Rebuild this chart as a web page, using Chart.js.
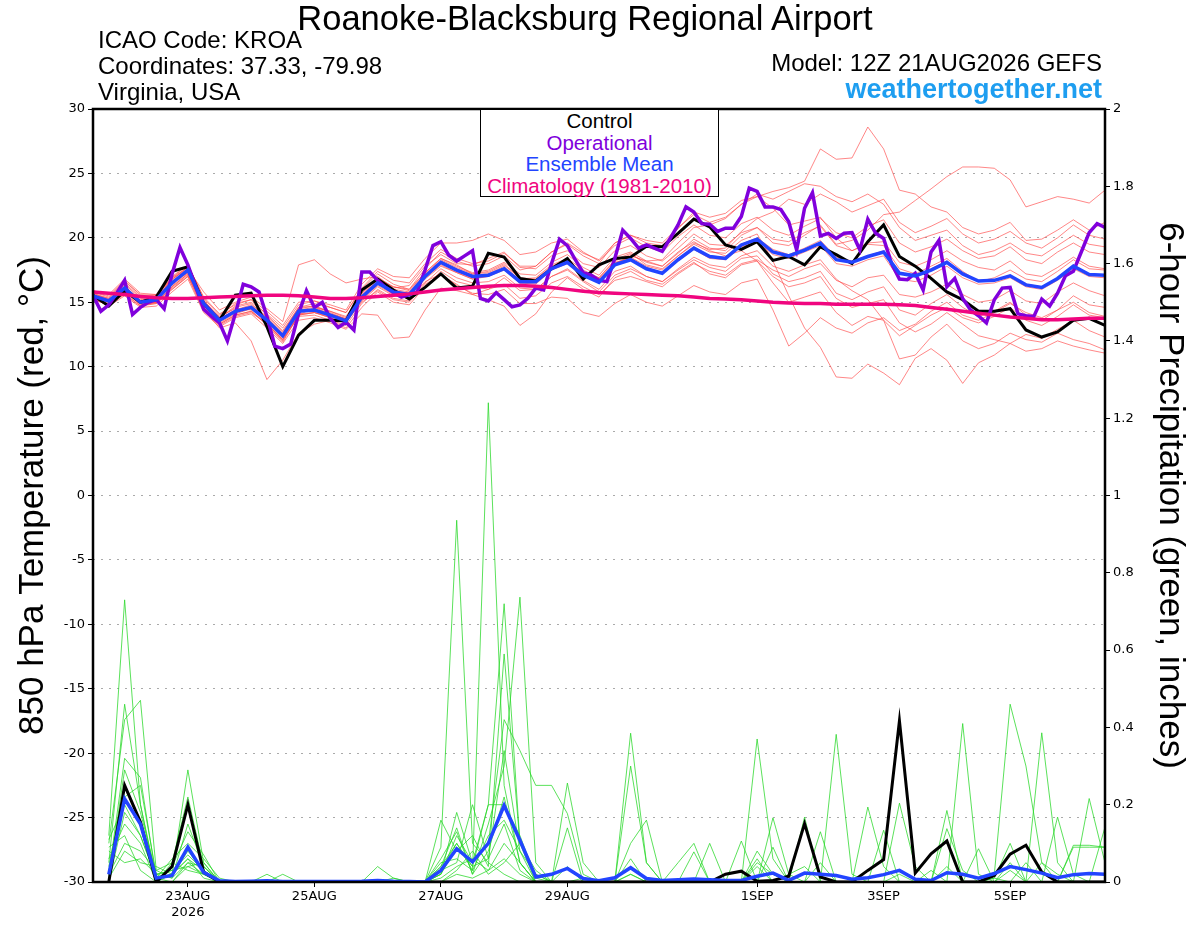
<!DOCTYPE html>
<html>
<head>
<meta charset="utf-8">
<script src="https://cdn.jsdelivr.net/npm/chart.js@4.4.1/dist/chart.umd.min.js"></script>
<style>
  html, body { margin: 0; padding: 0; background: #fff; }
  #wrap { position: relative; width: 1200px; height: 927px; }
  #wrap canvas { position: absolute; left: 0; top: 0; }
  .txt { position: absolute; font-family: "Liberation Sans", Arial, sans-serif; white-space: nowrap; color: #000; }
  #title { left: 0; width: 1170px; top: 0px; text-align: center; font-size: 34.5px; line-height: 36px; }
  .info { left: 98px; font-size: 24px; line-height: 26px; }
  .model { right: 98px; font-size: 24px; line-height: 26px; text-align: right; }
  #site { right: 98px; top: 75px; font-size: 27px; line-height: 28px; font-weight: bold; color: #1e9ef0; }
  #legend { position: absolute; left: 480px; top: 109px; width: 237px; height: 86px; border: 1px solid #000;
            background: #fff; font-family: "Liberation Sans", Arial, sans-serif; font-size: 20.5px; text-align: center; }
  #legend div { height: 21.5px; line-height: 21.5px; }
</style>
</head>
<body>
<div id="wrap">
  <canvas id="ensChart"></canvas>
  <div class="txt" id="title">Roanoke-Blacksburg Regional Airport</div>
  <div class="txt info" style="top:27px">ICAO Code: KROA</div>
  <div class="txt info" style="top:53px">Coordinates: 37.33, -79.98</div>
  <div class="txt info" style="top:79px">Virginia, USA</div>
  <div class="txt model" style="top:50px">Model: 12Z 21AUG2026 GEFS</div>
  <div class="txt" id="site">weathertogether.net</div>
  <div id="legend">
    <div style="color:#000">Control</div>
    <div style="color:#8000dc">Operational</div>
    <div style="color:#2244ff">Ensemble Mean</div>
    <div style="color:#f0057f">Climatology (1981-2010)</div>
  </div>
</div>
<script>
// forecast hours since 12Z 21AUG2026
const tempHours = Array.from({length: 65}, (_, i) => i * 6);
const opHours = Array.from({length: 129}, (_, i) => i * 3);
const precipHours = tempHours.slice(1);

const xTickHours = [36, 84, 132, 180, 252, 300, 348];
const xTickLabels = [['23AUG', '2026'], '25AUG', '27AUG', '29AUG', '1SEP', '3SEP', '5SEP'];

// 850 hPa temperature (C), 6-hourly
const controlTemp = [15.55, 14.7, 15.9, 15.0, 15.4, 17.4, 17.75, 14.9, 13.6, 15.55,
  15.7, 13.1, 10.0, 12.45, 13.6, 13.6, 13.55, 15.95, 16.8, 15.95,
  15.25, 16.15, 17.2, 16.1, 16.25, 18.8, 18.5, 16.85, 16.65, 17.6,
  18.4, 16.8, 17.9, 18.4, 18.5, 19.35, 19.3, 20.35, 21.45, 20.85,
  19.45, 19.1, 19.7, 18.25, 18.55, 17.9, 19.3, 18.7, 18.0, 19.7,
  21.0, 18.55, 17.8, 16.85, 15.8, 15.2, 14.3, 14.3, 14.5, 12.85,
  12.3, 12.7, 13.6, 13.75, 13.2];

const meanTemp = [15.5, 15.1, 16.1, 15.0, 15.2, 16.5, 17.5, 14.9, 13.6, 14.3,
  14.6, 13.6, 12.4, 14.3, 14.4, 14.0, 13.55, 15.4, 16.5, 15.8,
  15.6, 17.0, 18.1, 17.5, 17.0, 17.1, 17.6, 16.6, 16.6, 17.6,
  18.1, 17.1, 16.55, 17.9, 18.3, 17.6, 17.25, 18.3, 19.2, 18.55,
  18.4, 19.45, 19.9, 18.9, 18.6, 19.05, 19.6, 18.3, 18.1, 18.55,
  18.9, 17.25, 17.05, 17.5, 18.1, 17.2, 16.65, 16.7, 17.05, 16.35,
  16.15, 16.85, 17.8, 17.15, 17.1];

const climoTemp = [15.8, 15.7, 15.6, 15.45, 15.35, 15.3, 15.3, 15.35, 15.4, 15.45,
  15.5, 15.55, 15.55, 15.5, 15.4, 15.3, 15.3, 15.35, 15.45, 15.55,
  15.65, 15.8, 15.95, 16.05, 16.15, 16.25, 16.3, 16.3, 16.25, 16.15,
  16.0, 15.85, 15.75, 15.7, 15.65, 15.6, 15.55, 15.5, 15.4, 15.3,
  15.25, 15.2, 15.1, 15.0, 14.95, 14.9, 14.9, 14.85, 14.85, 14.85,
  14.85, 14.8, 14.75, 14.6, 14.45, 14.3, 14.15, 14.0, 13.85, 13.75,
  13.65, 13.65, 13.7, 13.75, 13.75];

// operational run, 3-hourly
const operationalTemp = [15.55, 14.3, 14.8, 15.7, 16.7, 14.05, 14.6, 15.0, 15.2, 14.5,
  17.2, 19.25, 17.9, 16.2, 14.45, 13.9, 13.4, 12.0, 14.1, 16.4,
  16.2, 15.8, 13.9, 11.6, 11.4, 11.75, 14.1, 15.9, 14.6, 15.0,
  13.75, 13.05, 13.45, 12.85, 17.35, 17.35, 16.7, 16.15, 15.75, 15.4,
  15.6, 15.8, 17.5, 19.4, 19.7, 18.65, 18.2, 18.6, 19.0, 15.3,
  15.1, 15.75, 15.2, 14.65, 14.8, 15.3, 16.1, 15.95, 18.0, 19.9,
  19.4, 18.3, 17.3, 17.1, 16.7, 16.6, 18.4, 20.6, 19.95, 19.2,
  19.45, 19.2, 18.95, 19.95, 21.0, 22.4, 22.0, 21.1, 21.05, 20.5,
  20.75, 20.75, 21.65, 23.85, 23.6, 22.4, 22.4, 22.2, 21.25, 19.05,
  22.3, 23.5, 20.15, 20.35, 19.95, 20.35, 20.4, 19.05, 21.45, 20.35,
  19.95, 18.0, 16.8, 16.75, 17.25, 15.95, 18.9, 19.8, 16.2, 16.85,
  15.3, 14.4, 13.95, 13.4, 15.2, 16.1, 16.15, 14.1, 13.95, 13.9,
  15.25, 14.7, 15.7, 17.05, 17.4, 18.9, 20.4, 21.1, 20.8];

// ensemble members, 6-hourly
const memberTemps = [
  [15.8, 15.4, 16.6, 15.6, 15.5, 17.0, 17.9, 15.3, 14.0, 14.9,
   15.2, 14.0, 12.8, 14.6, 14.9, 14.6, 14.2, 16.0, 17.2, 16.4,
   16.0, 17.6, 18.9, 18.2, 17.8, 18.0, 18.6, 17.5, 17.8, 18.9,
   19.5, 18.6, 18.0, 19.6, 20.2, 19.8, 19.6, 20.8, 21.8, 21.2,
   21.6, 22.6, 23.2, 23.6, 23.9, 24.4, 26.9, 26.1, 26.2, 28.6,
   26.9, 23.7, 23.4, 22.4, 22.0, 20.8, 20.3, 20.6, 21.2, 19.8,
   19.9, 20.6, 21.4, 20.6, 21.2],
  [15.2, 14.8, 15.7, 14.7, 15.0, 16.2, 17.2, 14.6, 13.3, 14.0,
   14.3, 13.3, 12.0, 14.0, 14.2, 13.8, 13.4, 15.2, 16.3, 15.6,
   15.4, 16.8, 17.8, 17.3, 16.8, 17.1, 17.6, 16.5, 16.4, 17.5,
   18.2, 17.3, 16.9, 18.2, 18.7, 18.1, 17.8, 18.8, 19.9, 19.2,
   19.0, 20.2, 20.8, 19.6, 19.4, 20.2, 21.0, 19.5, 19.8, 20.6,
   21.8, 22.0, 22.9, 23.8, 24.75, 25.5, 25.5, 25.4, 24.5, 22.4,
   22.8, 23.2, 23.0, 22.7, 23.7],
  [15.6, 15.3, 16.4, 15.3, 15.1, 16.9, 17.7, 15.0, 13.9, 14.5,
   14.4, 13.2, 11.9, 14.0, 14.6, 14.3, 13.8, 15.7, 16.8, 16.2,
   15.9, 17.3, 18.4, 17.9, 17.2, 17.4, 18.0, 16.8, 16.9, 17.9,
   18.4, 17.5, 16.9, 18.3, 18.8, 17.9, 17.6, 18.6, 19.5, 18.9,
   18.8, 19.8, 20.3, 18.2, 15.5, 13.0, 11.5, 9.2, 9.1, 10.2,
   9.5, 8.6, 10.65, 11.4, 10.5, 8.7, 10.3, 10.9, 11.8, 11.2,
   11.4, 12.0, 11.6, 11.3, 11.05],
  [15.4, 15.0, 15.8, 14.8, 14.9, 16.0, 17.0, 14.5, 13.0, 13.4,
   12.0, 9.0, 10.5, 12.6, 13.3, 13.6, 13.0, 14.6, 15.8, 15.0,
   14.8, 16.2, 17.4, 16.6, 16.3, 16.0, 16.9, 15.9, 16.0, 17.0,
   17.5, 16.6, 15.8, 17.1, 17.6, 17.0, 16.6, 17.5, 18.3, 17.7,
   17.4, 18.4, 18.6, 17.2, 16.6, 16.9, 17.4, 15.7, 15.2, 15.8,
   16.2, 14.4, 14.0, 14.9, 15.6, 14.6, 13.9, 14.3, 15.0, 14.0,
   13.6, 14.4, 15.5, 14.8, 14.6],
  [15.9, 15.6, 16.8, 15.7, 15.6, 16.8, 17.6, 15.8, 14.4, 15.0,
   15.4, 14.5, 13.5, 17.9, 18.3, 17.2, 16.5, 16.8, 17.0, 16.1,
   16.3, 17.8, 18.7, 18.0, 17.9, 18.4, 18.9, 17.7, 17.6, 18.6,
   19.0, 18.0, 17.7, 19.0, 19.4, 18.6, 18.2, 19.2, 20.3, 19.5,
   19.4, 20.4, 20.8, 19.9, 19.7, 20.4, 20.9, 19.4, 19.0, 19.6,
   19.7, 18.1, 17.8, 18.3, 19.0, 18.2, 17.7, 17.5, 18.2, 17.2,
   17.0, 17.7, 18.5, 17.8, 17.6],
  [15.3, 14.7, 15.5, 14.6, 14.7, 15.8, 16.8, 14.2, 13.1, 13.8,
   14.1, 13.0, 11.8, 13.6, 13.8, 13.4, 12.9, 14.1, 14.0, 12.2,
   12.3, 14.4, 16.1, 15.9, 15.6, 16.0, 16.4, 15.3, 15.5, 16.5,
   17.0, 16.2, 15.6, 16.7, 17.0, 16.6, 16.2, 17.2, 18.0, 17.4,
   17.1, 18.0, 18.3, 17.5, 17.0, 17.6, 18.0, 16.7, 16.2, 16.9,
   17.1, 15.6, 15.4, 15.8, 16.4, 15.6, 15.0, 15.2, 15.9, 15.1,
   14.9, 15.8, 16.5, 15.9, 15.5],
  [15.7, 15.2, 16.2, 15.2, 15.4, 16.6, 17.4, 15.1, 13.8, 14.7,
   15.0, 14.1, 13.0, 14.8, 15.1, 14.8, 14.4, 16.4, 17.6, 17.0,
   16.9, 18.4, 19.6, 19.6, 19.8, 20.3, 19.8, 18.7, 18.9, 19.6,
   19.9, 18.9, 18.2, 19.4, 20.0, 19.3, 18.9, 20.1, 21.0, 20.2,
   20.0, 21.1, 21.6, 20.6, 20.2, 20.9, 21.5, 20.4, 20.0, 20.9,
   21.4, 19.6, 18.9, 19.3, 19.9, 19.0, 18.4, 18.6, 19.3, 18.3,
   18.0, 18.9, 19.6, 18.9, 18.7],
  [15.5, 15.0, 15.9, 14.9, 15.0, 16.1, 17.1, 14.6, 13.4, 14.1,
   14.5, 13.4, 12.2, 14.1, 14.2, 13.9, 13.5, 15.0, 15.9, 15.2,
   15.0, 16.4, 17.1, 16.4, 15.6, 15.2, 14.7, 13.2, 14.1, 15.8,
   16.9, 16.0, 15.4, 16.9, 17.4, 16.7, 16.4, 17.3, 18.1, 17.2,
   16.9, 17.9, 18.2, 17.0, 16.2, 16.5, 17.0, 15.3, 14.6, 14.9,
   15.2, 13.4, 12.7, 13.3, 14.2, 13.3, 12.4, 12.1, 11.8, 12.5,
   12.2, 12.9, 13.6, 12.8, 12.3],
  [15.6, 15.1, 16.3, 15.1, 15.3, 16.7, 17.8, 15.2, 13.7, 14.4,
   14.8, 13.9, 12.7, 14.5, 14.7, 14.2, 13.7, 15.6, 16.7, 16.0,
   15.8, 17.2, 18.3, 17.7, 17.2, 17.3, 17.9, 16.9, 16.8, 17.8,
   18.3, 17.3, 16.8, 18.1, 18.4, 17.7, 17.3, 18.4, 19.3, 18.6,
   18.5, 19.5, 20.0, 19.1, 18.7, 19.2, 19.8, 18.5, 18.2, 18.6,
   19.0, 17.3, 17.1, 17.6, 18.2, 17.2, 16.7, 16.7, 17.1, 16.4,
   16.2, 16.9, 17.9, 17.2, 17.1],
  [15.4, 14.9, 16.0, 14.9, 15.1, 16.3, 17.3, 14.7, 13.5, 14.2,
   14.5, 13.6, 12.4, 14.3, 14.4, 14.0, 13.6, 15.3, 16.4, 15.7,
   15.5, 17.0, 18.0, 17.4, 16.9, 17.0, 17.5, 16.5, 16.5, 17.5,
   18.0, 17.1, 16.5, 18.0, 18.5, 17.8, 17.5, 18.6, 19.6, 19.1,
   19.2, 20.5, 21.5, 22.0, 23.0, 22.6, 23.4, 22.8, 22.0, 22.5,
   23.0, 21.2, 20.4, 20.9, 21.5, 20.3, 19.6, 19.9, 20.5, 19.6,
   19.2, 20.0, 21.0, 20.2, 19.9],
  [15.7, 15.3, 16.5, 15.4, 15.4, 16.8, 17.7, 15.1, 13.8, 14.6,
   14.9, 13.8, 12.6, 14.6, 14.7, 14.3, 13.9, 15.7, 16.9, 16.2,
   16.0, 17.3, 18.4, 17.8, 17.3, 17.5, 18.1, 17.2, 17.1, 18.1,
   18.7, 17.7, 17.1, 18.5, 18.9, 18.2, 17.8, 18.9, 19.7, 19.0,
   18.6, 19.0, 18.2, 16.5, 15.0, 15.4, 15.8, 14.2, 13.2, 13.9,
   13.6, 12.4, 13.2, 14.0, 14.6, 13.8, 13.4, 13.9, 14.6, 13.6,
   13.2, 13.9, 14.8, 14.0, 13.8],
  [15.5, 15.2, 16.0, 15.1, 15.2, 16.4, 17.5, 14.9, 13.7, 14.4,
   14.7, 13.8, 12.5, 14.4, 14.6, 14.1, 13.7, 15.5, 16.6, 15.9,
   15.7, 17.1, 18.2, 17.6, 17.1, 17.2, 17.8, 16.7, 16.7, 17.7,
   18.2, 17.2, 16.6, 18.0, 18.4, 17.6, 17.2, 18.2, 19.1, 18.4,
   18.3, 19.3, 19.7, 18.7, 18.4, 18.9, 19.4, 18.0, 17.8, 18.3,
   18.6, 16.8, 16.6, 17.1, 17.8, 16.9, 16.4, 16.5, 16.9, 16.2,
   16.0, 16.7, 17.6, 17.0, 16.9],
  [15.8, 15.5, 16.7, 15.5, 15.6, 16.9, 17.9, 15.4, 14.1, 14.8,
   15.2, 14.3, 13.2, 15.0, 15.1, 14.6, 14.2, 16.1, 17.4, 16.7,
   16.5, 18.0, 19.1, 18.4, 18.0, 18.2, 18.8, 17.8, 17.8, 18.9,
   19.6, 18.8, 18.3, 19.6, 20.2, 19.6, 19.4, 20.7, 22.0, 21.6,
   21.9, 22.9, 23.2, 22.3, 21.0, 21.3, 21.6, 20.0, 19.0, 19.5,
   19.4, 17.6, 17.2, 17.8, 18.4, 17.4, 16.6, 16.9, 17.5, 16.8,
   16.6, 17.4, 18.3, 17.6, 17.5],
  [15.3, 14.8, 15.6, 14.7, 14.9, 16.0, 17.0, 14.3, 13.2, 13.9,
   14.2, 13.3, 12.1, 13.9, 14.0, 13.6, 13.2, 14.9, 16.0, 15.3,
   15.1, 16.5, 17.6, 16.9, 16.5, 16.6, 17.1, 16.1, 16.0, 17.0,
   17.6, 16.7, 16.0, 17.4, 17.8, 17.0, 16.6, 17.6, 18.5, 17.9,
   17.7, 18.6, 19.0, 17.8, 17.4, 17.9, 18.3, 16.8, 15.9, 15.2,
   13.6, 10.6, 10.9, 12.3, 13.3, 12.0, 11.4, 11.8, 12.6, 12.1,
   11.9, 12.6, 12.1, 11.8, 11.3],
  [15.6, 15.0, 16.1, 15.0, 15.3, 16.5, 17.3, 14.8, 13.6, 14.3,
   14.6, 13.7, 12.5, 14.2, 14.5, 14.1, 13.7, 15.4, 16.5, 15.8,
   15.6, 16.9, 17.9, 17.3, 16.8, 17.0, 17.6, 16.6, 16.6, 17.6,
   18.1, 17.2, 16.7, 18.0, 18.6, 18.2, 18.3, 19.6, 20.8, 21.0,
   21.5, 22.6, 23.4, 23.0, 23.6, 24.2, 24.0, 23.2, 22.8, 23.4,
   22.6, 20.8, 19.8, 20.2, 20.6, 19.4, 18.7, 19.0, 19.6, 18.8,
   18.6, 19.4, 20.2, 19.5, 19.3],
  [15.4, 15.0, 15.9, 14.8, 15.0, 16.2, 17.2, 14.6, 13.3, 14.0,
   14.3, 13.3, 12.1, 14.0, 14.2, 13.8, 13.4, 15.1, 16.2, 15.5,
   15.3, 16.6, 17.2, 16.3, 15.7, 15.6, 16.0, 14.9, 14.9, 15.4,
   15.3, 14.2, 13.9, 14.9, 15.6, 15.0, 14.7, 15.5, 16.3, 15.8,
   15.6, 16.5, 16.8, 14.4, 11.6, 12.6, 13.8, 13.0, 12.6, 13.4,
   13.8, 12.8, 13.3, 14.3, 15.0, 14.0, 13.6, 14.2, 14.9, 14.2,
   13.8, 14.4, 15.0, 14.2, 13.9]
];

// 6-hour precipitation (inches), hours 6..384
const controlPrecip = [0, 0.25, 0.155, 0, 0.04, 0.20, 0.025, 0, 0, 0,
  0, 0, 0, 0, 0, 0, 0, 0, 0, 0,
  0, 0, 0, 0, 0, 0, 0, 0, 0, 0,
  0, 0, 0, 0, 0, 0, 0, 0, 0, 0.02,
  0.028, 0.002, 0.004, 0.015, 0.151, 0.013, 0, 0, 0.03, 0.058,
  0.417, 0.023, 0.073, 0.106, 0, 0, 0.017, 0.072, 0.095, 0.026,
  0, 0, 0, 0];

const meanPrecip = [0.02, 0.215, 0.15, 0.01, 0.017, 0.09, 0.025, 0.003, 0.001, 0.002,
  0.003, 0.001, 0.001, 0.001, 0.001, 0.001, 0.002, 0.004, 0.002, 0.001,
  0, 0.03, 0.086, 0.052, 0.1, 0.198, 0.108, 0.013, 0.02, 0.035,
  0.009, 0.003, 0.011, 0.037, 0.009, 0.004, 0.006, 0.008, 0.006, 0.004,
  0.004, 0.015, 0.023, 0.004, 0.023, 0.02, 0.017, 0.007, 0.011, 0.019,
  0.03, 0.007, 0.004, 0.024, 0.02, 0.01, 0.022, 0.04, 0.032, 0.023,
  0.011, 0.019, 0.022, 0.02];

const memberPrecips = [
  [0.12, 0.73, 0.20, 0.01, 0.02, 0.29, 0.05, 0, 0, 0,
   0, 0, 0, 0, 0, 0, 0, 0, 0, 0,
   0, 0.04, 0.10, 0.03, 1.24, 0.25, 0.05, 0, 0, 0,
   0, 0, 0, 0, 0, 0, 0, 0, 0, 0,
   0, 0.05, 0.02, 0, 0, 0, 0, 0, 0, 0,
   0, 0, 0, 0, 0, 0, 0.02, 0.46, 0.30, 0.05,
   0, 0, 0, 0],
  [0.05, 0.46, 0.20, 0, 0.04, 0.13, 0.07, 0, 0, 0,
   0, 0, 0, 0, 0, 0, 0, 0.04, 0.01, 0,
   0, 0.09, 0.936, 0.10, 0.05, 0.02, 0, 0, 0, 0.04,
   0, 0, 0, 0.02, 0, 0, 0, 0, 0, 0,
   0, 0, 0.166, 0.02, 0, 0, 0, 0, 0, 0,
   0.02, 0, 0, 0.138, 0.03, 0, 0, 0, 0, 0.386,
   0.05, 0, 0, 0],
  [0.10, 0.42, 0.47, 0.03, 0.05, 0.22, 0.04, 0, 0, 0,
   0, 0, 0, 0, 0, 0, 0, 0, 0, 0,
   0, 0.02, 0.12, 0.05, 0.20, 0.72, 0.10, 0, 0, 0,
   0, 0, 0, 0.385, 0.05, 0, 0, 0, 0, 0,
   0, 0.37, 0.06, 0, 0, 0.13, 0, 0, 0, 0,
   0, 0, 0, 0, 0.41, 0.02, 0, 0, 0, 0,
   0, 0, 0.216, 0.05],
  [0.02, 0.32, 0.27, 0.01, 0.06, 0.10, 0.06, 0.01, 0, 0,
   0, 0, 0, 0, 0, 0, 0, 0, 0, 0,
   0, 0.06, 0.13, 0.02, 0.15, 0.30, 0.737, 0.05, 0, 0,
   0, 0, 0, 0, 0, 0, 0, 0, 0, 0,
   0, 0.04, 0, 0, 0, 0, 0.382, 0.02, 0, 0,
   0, 0, 0, 0, 0, 0, 0, 0.05, 0, 0,
   0, 0.09, 0.09, 0.09],
  [0.01, 0.29, 0.18, 0.02, 0.03, 0.07, 0.03, 0, 0, 0,
   0.02, 0, 0, 0, 0, 0, 0, 0, 0, 0,
   0, 0.16, 0.08, 0.12, 0.04, 0.59, 0.10, 0.02, 0, 0.256,
   0.05, 0, 0, 0, 0, 0, 0, 0, 0, 0,
   0, 0, 0, 0, 0.168, 0, 0, 0, 0, 0,
   0.204, 0.04, 0, 0, 0, 0, 0, 0, 0, 0,
   0, 0, 0, 0.142],
  [0.04, 0.25, 0.15, 0, 0, 0.05, 0.04, 0, 0, 0,
   0, 0.02, 0, 0, 0, 0, 0, 0, 0, 0,
   0, 0.02, 0.18, 0.05, 0.10, 0.42, 0.34, 0.25, 0.25, 0.177,
   0.02, 0, 0, 0.30, 0.05, 0, 0, 0, 0, 0,
   0, 0, 0, 0, 0, 0, 0, 0, 0.194, 0.04,
   0, 0, 0, 0, 0, 0, 0, 0, 0, 0,
   0, 0, 0, 0],
  [0.11, 0.20, 0.12, 0.01, 0, 0.04, 0.02, 0, 0, 0,
   0, 0, 0, 0, 0, 0, 0, 0, 0, 0,
   0, 0.03, 0.05, 0.20, 0.06, 0.34, 0.08, 0, 0, 0.14,
   0, 0, 0, 0.10, 0.16, 0, 0, 0.078, 0, 0,
   0, 0, 0, 0, 0, 0.05, 0, 0, 0, 0.134,
   0, 0, 0, 0.185, 0, 0, 0, 0, 0, 0,
   0.168, 0.02, 0, 0],
  [0.06, 0.15, 0.10, 0, 0.02, 0.06, 0.01, 0, 0, 0,
   0, 0, 0, 0, 0, 0, 0, 0, 0, 0,
   0, 0.04, 0.14, 0.02, 0.08, 0.22, 0.05, 0, 0, 0,
   0, 0, 0, 0, 0, 0, 0, 0, 0.10, 0,
   0.106, 0, 0, 0, 0, 0, 0, 0, 0, 0,
   0, 0, 0.03, 0, 0, 0.086, 0, 0, 0, 0,
   0, 0, 0, 0],
  [0.02, 0.10, 0.08, 0.03, 0.01, 0.05, 0.02, 0, 0, 0,
   0, 0, 0, 0, 0, 0, 0, 0, 0, 0,
   0, 0.05, 0.06, 0.03, 0.12, 0.16, 0.08, 0.02, 0, 0,
   0.01, 0, 0, 0, 0, 0, 0, 0, 0, 0,
   0, 0.08, 0.02, 0, 0, 0, 0, 0, 0, 0,
   0, 0, 0, 0, 0, 0, 0.01, 0.10, 0, 0,
   0, 0.095, 0.095, 0.09],
  [0.08, 0.05, 0.06, 0.02, 0.03, 0.04, 0.05, 0, 0, 0,
   0, 0, 0, 0, 0, 0, 0, 0, 0, 0,
   0, 0.01, 0.04, 0.06, 0.03, 0.10, 0.05, 0, 0, 0,
   0, 0, 0, 0.06, 0, 0, 0, 0, 0, 0,
   0, 0, 0, 0.02, 0.04, 0, 0, 0, 0, 0,
   0, 0, 0, 0.04, 0, 0, 0, 0, 0.05, 0,
   0, 0, 0, 0],
  [0.03, 0.22, 0.25, 0.02, 0.01, 0.15, 0.04, 0, 0, 0,
   0, 0, 0, 0, 0, 0, 0, 0, 0.01, 0,
   0, 0.02, 0.09, 0.04, 0.20, 0.20, 0.12, 0.01, 0, 0,
   0, 0, 0, 0, 0, 0, 0.05, 0.10, 0, 0,
   0, 0, 0, 0, 0, 0, 0, 0, 0, 0,
   0, 0, 0, 0, 0, 0, 0, 0.03, 0, 0,
   0, 0, 0, 0],
  [0.01, 0.08, 0.05, 0.04, 0.02, 0.08, 0.03, 0, 0, 0,
   0, 0, 0, 0, 0, 0, 0, 0, 0, 0,
   0, 0, 0.02, 0.01, 0.03, 0.06, 0.02, 0, 0, 0,
   0, 0, 0, 0, 0, 0, 0, 0, 0, 0,
   0, 0.06, 0, 0, 0, 0, 0, 0, 0, 0,
   0, 0, 0, 0, 0, 0, 0, 0, 0, 0,
   0, 0, 0, 0],
  [0.09, 0.12, 0.03, 0, 0.05, 0.03, 0.02, 0, 0, 0,
   0, 0, 0, 0, 0, 0, 0, 0, 0, 0,
   0, 0, 0.03, 0.08, 0.02, 0.05, 0.10, 0.03, 0, 0,
   0, 0, 0, 0.02, 0, 0, 0, 0, 0, 0,
   0, 0, 0, 0, 0, 0, 0, 0, 0, 0,
   0, 0, 0, 0, 0, 0, 0.01, 0, 0, 0.05,
   0.02, 0, 0, 0],
  [0, 0.18, 0.12, 0.01, 0.02, 0.06, 0.03, 0, 0, 0,
   0, 0, 0, 0, 0, 0, 0, 0, 0, 0,
   0, 0.03, 0.10, 0.04, 0.06, 0.15, 0.03, 0, 0, 0,
   0, 0, 0, 0, 0, 0, 0, 0, 0, 0,
   0, 0, 0.09, 0, 0, 0, 0, 0, 0, 0,
   0, 0, 0, 0, 0, 0, 0, 0, 0, 0,
   0, 0, 0, 0]
];

const pts = (hours, vals) => vals.map((v, i) => ({x: hours[i], y: v}));

function line(label, hours, vals, color, width, axis, order) {
  return {
    label, data: pts(hours, vals), borderColor: color, borderWidth: width,
    yAxisID: axis, order, pointRadius: 0, tension: 0, fill: false
  };
}

const datasets = [];
memberPrecips.forEach((m, i) => datasets.push(line('p' + i, precipHours, m, 'rgba(40,215,40,0.85)', 0.9, 'y1', 8)));
memberTemps.forEach((m, i) => datasets.push(line('t' + i, tempHours, m, 'rgba(255,70,70,0.72)', 0.9, 'y', 7)));
datasets.push(line('Control precip', precipHours, controlPrecip, '#000', 3, 'y1', 6));
datasets.push(line('Mean precip', precipHours, meanPrecip, '#2244ff', 3.5, 'y1', 5));
datasets.push(line('Control', tempHours, controlTemp, '#000', 3, 'y', 4));
datasets.push(line('Operational', opHours, operationalTemp, '#8000dc', 3.5, 'y', 3));
datasets.push(line('Ensemble Mean', tempHours, meanTemp, '#2244ff', 3.5, 'y', 2));
datasets.push(line('Climatology', tempHours, climoTemp, '#f0057f', 3.5, 'y', 1));

// thick frame round the plot area
const frame = {
  id: 'frame',
  afterDraw(chart) {
    const {ctx, chartArea: a} = chart;
    ctx.save();
    ctx.strokeStyle = '#000';
    ctx.lineWidth = 2.5;
    ctx.strokeRect(a.left, a.top, a.right - a.left, a.bottom - a.top);
    ctx.restore();
  }
};

const tickFont = {family: '"DejaVu Sans", sans-serif', size: 13};
const titleFont = {family: '"Liberation Sans", Arial, sans-serif', size: 35};

new Chart(document.getElementById('ensChart'), {
  type: 'line',
  data: {datasets},
  plugins: [frame],
  options: {
    responsive: true,
    maintainAspectRatio: false,
    animation: false,
    events: [],
    layout: {padding: {top: 109, left: 0, right: 0, bottom: 0}},
    plugins: {legend: {display: false}, tooltip: {enabled: false}},
    scales: {
      x: {
        type: 'linear', min: 0, max: 384,
        afterBuildTicks: s => { s.ticks = xTickHours.map(v => ({value: v})); },
        afterFit: s => { s.height = 45; },
        grid: {drawOnChartArea: false, drawTicks: true, tickLength: 5, color: '#000', tickColor: '#000'},
        border: {display: false},
        ticks: {
          autoSkip: false, maxRotation: 0, padding: 2, color: '#000', font: tickFont,
          callback: v => xTickLabels[xTickHours.indexOf(v)]
        }
      },
      y: {
        position: 'left', min: -30, max: 30,
        afterFit: s => { s.width = 93; },
        grid: {
          drawTicks: true, tickLength: 5, tickColor: '#000', lineWidth: 1,
          color: c => (c.tick.value === 30 || c.tick.value === -30) ? 'rgba(0,0,0,0)' : '#aaa'
        },
        border: {display: false, dash: [2, 6]},
        ticks: {stepSize: 5, padding: 3, color: '#000', font: tickFont},
        title: {display: true, text: '850 hPa Temperature (red, \u00B0C)', color: '#000', font: titleFont, padding: {top: 12}}
      },
      y1: {
        position: 'right', min: 0, max: 2,
        afterFit: s => { s.width = 95; },
        grid: {drawOnChartArea: false, drawTicks: true, tickLength: 5, tickColor: '#000'},
        border: {display: false},
        ticks: {stepSize: 0.2, padding: 3, color: '#000', font: tickFont, callback: v => String(+v.toFixed(1))},
        title: {display: true, text: '6-hour Precipitation (green, inches)', color: '#000', font: titleFont, padding: {top: 9}}
      }
    }
  }
});
</script>
</body>
</html>
